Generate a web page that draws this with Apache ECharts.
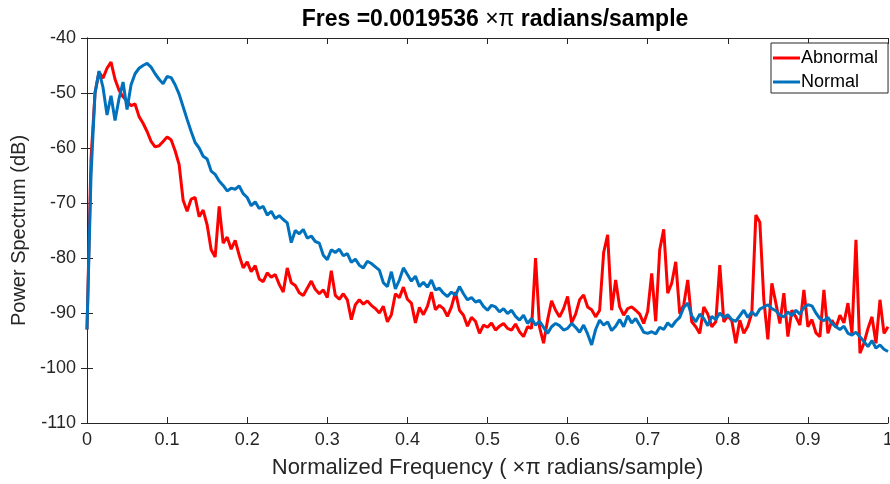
<!DOCTYPE html>
<html>
<head>
<meta charset="utf-8">
<script src="https://cdn.jsdelivr.net/npm/echarts@6/dist/echarts.min.js"></script>
<style>
html,body{margin:0;padding:0;background:#fff;overflow:hidden;}
#chart{width:890px;height:484px;}
</style>
</head>
<body>
<div id="chart"></div>
<script>
// Frequency step (x pi radians/sample) of the read-off samples
const freqStep = 0.005;
const xTicks = ['0','0.1','0.2','0.3','0.4','0.5','0.6','0.7','0.8','0.9','1'];
const yTicks = [-110,-100,-90,-80,-70,-60,-50,-40];

const abnormal = [
-93,-62,-50,-46.2,-47.3,-45.5,-44.4,-47.5,-49.5,-50.7,
-51.5,-52.3,-52,-54.3,-55.5,-57,-58.8,-59.8,-59.6,-58.8,
-58,-58.5,-60.5,-63,-69.5,-71.5,-69.3,-69,-72.5,-71.3,
-74,-78.5,-79.8,-70.6,-77.3,-76.2,-78.4,-76.8,-79.5,-81.8,
-80.7,-82.5,-81.4,-83.8,-84.3,-82.7,-83.5,-83,-84.8,-86.2,
-81.8,-84.5,-85,-86.3,-86.8,-85.5,-84.2,-85.7,-86.5,-85.8,
-87.2,-82.3,-86.8,-87.5,-86.5,-87.6,-91.2,-88.5,-87.6,-88.4,
-87.8,-88.6,-89.2,-90,-88.8,-91.6,-90.3,-86.5,-87.2,-85.3,
-87.5,-88.2,-91.8,-89,-90.3,-88.8,-86.2,-89.4,-88.6,-89.2,
-90.6,-88.9,-86.2,-89.5,-90.4,-92.4,-90.8,-91.5,-93.7,-92.2,
-92.6,-91.8,-93.1,-92.4,-91.9,-92.8,-93.1,-92,-93.4,-94.3,
-92.5,-92.8,-80,-92.6,-95.5,-91.3,-87.8,-89.5,-90.7,-89.2,
-87,-91.8,-90.2,-87.6,-86.7,-88.9,-89.4,-90.7,-89.5,-79,
-75.8,-89.5,-84,-88.9,-90.4,-89.2,-88.9,-89.5,-90.2,-91.9,
-89.7,-82.8,-91.5,-78.5,-74.8,-86.4,-84.6,-80.7,-90.1,-88.5,
-84,-91.6,-92.5,-93.7,-88.9,-90.2,-92.5,-91.6,-81.3,-91.6,
-90.5,-91.4,-95.5,-91.3,-93.7,-92.4,-90,-72.2,-73.5,-87.6,
-94.8,-84.6,-88.2,-91.9,-86.4,-94.3,-89.5,-90.7,-92.2,-85.8,
-92.5,-91.2,-93.6,-94.3,-85.8,-93.7,-91.3,-92.6,-90.4,-91.8,
-88.2,-93.7,-76.7,-97.3,-95.5,-92.8,-90.7,-95.5,-87.6,-93.7,
-92.5
];

const normal = [
-93,-65,-50,-46,-49,-54,-50.5,-55,-51,-48,
-53,-48.5,-46.5,-45.5,-45,-44.6,-45.3,-46.5,-47.5,-48.3,
-47,-47.2,-48.5,-50.2,-52.5,-54.8,-57,-59,-60,-61.5,
-62,-64.2,-64.8,-66,-66.8,-67.8,-67.3,-67.5,-66.9,-68.3,
-69,-70.5,-69.8,-71,-70.6,-72.2,-71.5,-72.8,-72.3,-73,
-73.6,-77.2,-75,-75.6,-74.8,-76.4,-76,-77,-77.3,-79.5,
-80.3,-78.5,-79,-78.4,-79.6,-79.2,-80.8,-80.2,-81.3,-81.8,
-80.6,-81,-81.6,-82.2,-84.5,-85.2,-82.5,-85.6,-84,-81.8,
-83,-84.2,-83.3,-85.2,-84.4,-85.3,-84,-85.8,-85.5,-86.4,
-87,-86.2,-86.8,-85.2,-86.5,-87.6,-87.2,-88,-87.7,-88.8,
-89.5,-88.6,-88.9,-89.8,-89.2,-90.1,-89.5,-90.6,-91.3,-90.4,
-91.9,-91,-92.2,-91.5,-92.6,-93.7,-92.5,-91.9,-92.3,-93.1,
-92.8,-91.9,-92.6,-93.5,-92.2,-93.8,-95.8,-93,-91.3,-92.2,
-91.6,-93.2,-92.4,-91.2,-92.5,-90.5,-91.8,-91,-92.2,-93.5,
-93.7,-93.4,-93.8,-92.6,-93,-91.8,-92.5,-91.5,-90.8,-89,
-88.2,-90.5,-91.6,-90.2,-91,-92.3,-90.6,-91.2,-90,-90.8,
-90.3,-91.2,-91.5,-90.5,-89.5,-90.8,-89.8,-90.5,-89.3,-88.9,
-88.5,-89.2,-89.6,-90.4,-90.7,-89.8,-90.5,-89.5,-90.2,-89,
-88.5,-88.7,-90,-91,-91.4,-90.8,-91.9,-92.5,-93,-92.4,
-93.7,-94,-93.5,-94.3,-95.2,-96.1,-95,-96.4,-95.8,-96.6,
-97
];

const toPairs = arr => arr.map((v, i) => [+(i * freqStep).toFixed(4), v]);

const axisColor = '#262626';
const fontFam = '"Liberation Sans", Arial, Helvetica, sans-serif';

const chart = echarts.init(document.getElementById('chart'), null, {renderer: 'canvas'});
chart.setOption({
  backgroundColor: '#ffffff',
  animation: false,
  title: {
    text: '{b|Fres =0.0019536 }{n|×π}{b| radians/sample}',
    left: 490,
    textAlign: 'center',
    top: 3,
    textStyle: {
      rich: {
        b: {fontFamily: fontFam, fontWeight: 'bold', fontSize: 23, color: '#000'},
        n: {fontFamily: fontFam, fontWeight: 'normal', fontSize: 23, color: '#000'}
      }
    }
  },
  legend: {
    orient: 'vertical',
    left: 771,
    top: 43,
    itemWidth: 27,
    itemHeight: 3,
    itemGap: 6,
    icon: 'rect',
    padding: [6, 10, 2, 2],
    borderColor: '#262626',
    borderWidth: 1,
    backgroundColor: '#fff',
    textStyle: {fontFamily: fontFam, fontSize: 18, color: '#000', padding: [0,0,0,-4]},
    data: ['Abnormal', 'Normal']
  },
  grid: {left: 87, right: 2, top: 38, bottom: 61, containLabel: false, outerBoundsMode: 'none'},
  xAxis: [{
    type: 'value', min: 0, max: 1, interval: 0.1,
    name: 'Normalized Frequency ( ×π radians/sample)',
    nameLocation: 'middle', nameGap: 34,
    nameTextStyle: {fontFamily: fontFam, fontSize: 22, color: axisColor},
    axisLine: {show: true, lineStyle: {color: axisColor, width: 1}},
    axisTick: {show: true, inside: true, length: 6, lineStyle: {color: axisColor}},
    axisLabel: {fontFamily: fontFam, fontSize: 18, color: axisColor, margin: 8,
      formatter: v => xTicks[Math.round(v * 10)]},
    splitLine: {show: false}
  }, {
    type: 'value', min: 0, max: 1, interval: 0.1, position: 'top',
    axisLine: {show: true, lineStyle: {color: axisColor, width: 1}},
    axisTick: {show: true, inside: true, length: 6, lineStyle: {color: axisColor}},
    axisLabel: {show: false}, splitLine: {show: false}
  }],
  yAxis: [{
    type: 'value', min: yTicks[0], max: yTicks[yTicks.length - 1], interval: 10,
    name: 'Power Spectrum (dB)',
    nameLocation: 'middle', nameGap: 55,
    nameTextStyle: {fontFamily: fontFam, fontSize: 20, color: axisColor},
    axisLine: {show: true, lineStyle: {color: axisColor, width: 1}},
    axisTick: {show: true, inside: true, length: 6, lineStyle: {color: axisColor}},
    axisLabel: {fontFamily: fontFam, fontSize: 18, color: axisColor, margin: 11},
    splitLine: {show: false}
  }, {
    type: 'value', min: yTicks[0], max: yTicks[yTicks.length - 1], interval: 10, position: 'right',
    axisLine: {show: true, lineStyle: {color: axisColor, width: 1}},
    axisTick: {show: true, inside: true, length: 6, lineStyle: {color: axisColor}},
    axisLabel: {show: false}, splitLine: {show: false}
  }],
  series: [{
    name: 'Abnormal', type: 'line', xAxisIndex: 0, yAxisIndex: 0,
    data: toPairs(abnormal), showSymbol: false, symbol: 'none',
    lineStyle: {color: '#ff0000', width: 3}, itemStyle: {color: '#ff0000'}
  }, {
    name: 'Normal', type: 'line', xAxisIndex: 0, yAxisIndex: 0,
    data: toPairs(normal), showSymbol: false, symbol: 'none',
    lineStyle: {color: '#0072bd', width: 3}, itemStyle: {color: '#0072bd'}
  }]
});
</script>
</body>
</html>
